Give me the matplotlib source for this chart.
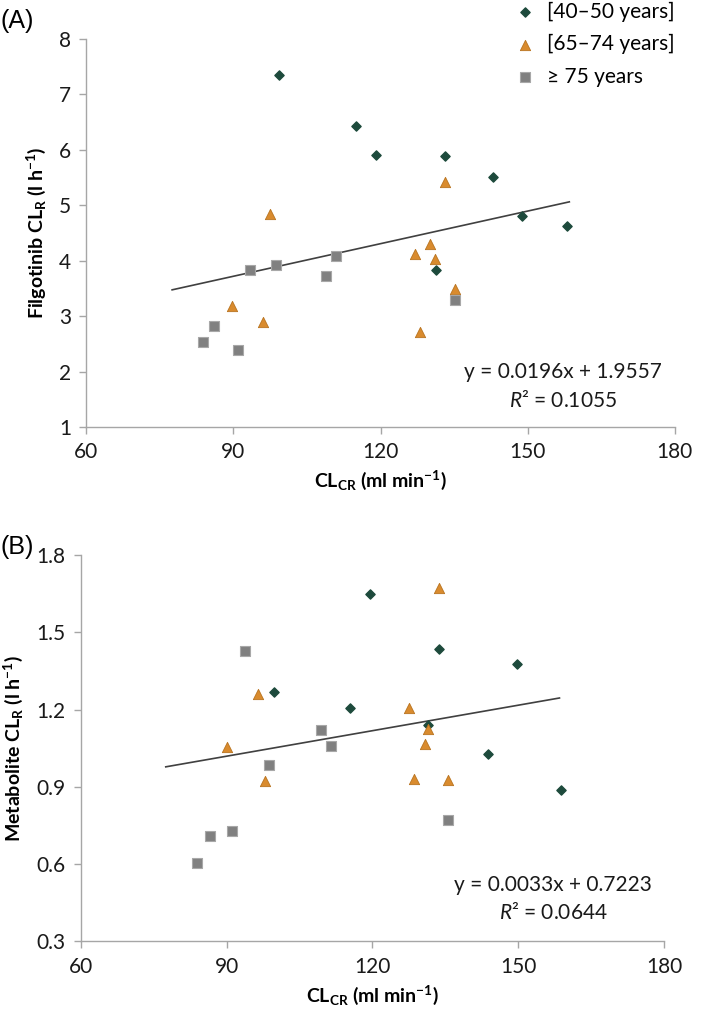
import matplotlib
matplotlib.use("Agg")
import matplotlib.pyplot as plt
import numpy as np

# panel A: filgotinib renal clearance vs creatinine clearance
a_green_x = [99.4, 114.9, 119.1, 133.1, 142.9, 148.9, 158.0, 131.3]
a_green_y = [7.35, 6.43, 5.91, 5.89, 5.51, 4.80, 4.63, 3.84]
a_orange_x = [97.5, 133.1, 127.1, 130.0, 131.2, 135.1, 128.0, 89.8, 96.0]
a_orange_y = [4.85, 5.42, 4.12, 4.31, 4.03, 3.49, 2.72, 3.18, 2.90]
a_grey_x = [93.4, 98.6, 108.9, 110.9, 135.1, 83.7, 86.1, 90.9]
a_grey_y = [3.84, 3.93, 3.73, 4.08, 3.29, 2.54, 2.82, 2.39]
a_fit = (0.0196, 1.9557, 0.1055)

# panel B: metabolite renal clearance
b_green_x = [99.8, 115.4, 119.6, 133.8, 149.7, 131.5, 143.7, 158.9]
b_green_y = [1.269, 1.208, 1.649, 1.435, 1.377, 1.142, 1.027, 0.887]
b_orange_x = [133.8, 96.4, 90.2, 97.9, 127.5, 131.5, 130.8, 128.6, 135.6]
b_orange_y = [1.674, 1.259, 1.056, 0.922, 1.207, 1.124, 1.065, 0.931, 0.926]
b_grey_x = [93.9, 109.4, 111.5, 98.7, 135.5, 86.6, 91.2, 84.0]
b_grey_y = [1.429, 1.121, 1.059, 0.984, 0.771, 0.711, 0.727, 0.603]
b_fit = (0.0033, 0.7223, 0.0644)

trend_range = [77.5, 158.5]
group_labels = ["[40\u201350 years]", "[65\u201374 years]", "\u2265 75 years"]

plt.rcParams["font.family"] = ["Lato", "DejaVu Sans"]
plt.rcParams["mathtext.fontset"] = "custom"
plt.rcParams["mathtext.rm"] = "Lato"
plt.rcParams["mathtext.it"] = "Lato:italic"
plt.rcParams["mathtext.bf"] = "Lato:bold"

GREEN = "#1d4a3c"
ORANGE = "#d98b2e"
GREY = "#808080"
AXC = "#a6a6a6"


def style_axes(ax):
    for s in ["top", "right"]:
        ax.spines[s].set_visible(False)
    for s in ["left", "bottom"]:
        ax.spines[s].set_color(AXC)
        ax.spines[s].set_linewidth(1.0)
    ax.tick_params(direction="out", length=5, width=1.0, color=AXC,
                   labelsize=15, labelcolor="#1a1a1a", pad=6)


def draw_panel(ax, gx, gy, ox, oy, qx, qy, fit, ylim, yticks, ylabel, eq_y):
    h1 = ax.scatter(gx, gy, marker="D", s=22, color=GREEN, edgecolor=GREEN, zorder=3)
    h2 = ax.scatter(ox, oy, marker="^", s=55, color=ORANGE, edgecolor="#b8731f",
                    linewidth=0.6, zorder=3)
    h3 = ax.scatter(qx, qy, marker="s", s=55, color=GREY, edgecolor="#a8a8a8",
                    linewidth=0.8, zorder=3)
    slope, icpt, r2 = fit
    xs = np.array(trend_range)
    ax.plot(xs, slope * xs + icpt, color="#404040", linewidth=1.2, zorder=2)
    ax.set_xlim(60, 180)
    ax.set_xticks([60, 90, 120, 150, 180])
    ax.set_ylim(*ylim)
    ax.set_yticks(yticks)
    style_axes(ax)
    ax.set_xlabel(r"CL$_{\mathbf{CR}}$ (ml min$^{\mathbf{-1}}$)", fontsize=14,
                  fontweight="bold", labelpad=5)
    ax.set_ylabel(ylabel, fontsize=14, fontweight="bold", labelpad=8)
    ax.text(0.81, eq_y, f"y = {slope}x + {icpt}\n$R$\u00b2 = {r2}",
            transform=ax.transAxes, ha="center", va="center", fontsize=15,
            linespacing=1.45, color="#1a1a1a")
    return h1, h2, h3


fig = plt.figure(figsize=(7.09, 10.22), dpi=100)
ax_a = fig.add_axes([0.1217, 0.5822, 0.830, 0.3796])
ax_b = fig.add_axes([0.1138, 0.0788, 0.8227, 0.378])

handles = draw_panel(ax_a, a_green_x, a_green_y, a_orange_x, a_orange_y,
                     a_grey_x, a_grey_y, a_fit, (1, 8), range(1, 9),
                     r"Filgotinib CL$_{\mathbf{R}}$ (l h$^{\mathbf{-1}}$)", 0.105)
draw_panel(ax_b, b_green_x, b_green_y, b_orange_x, b_orange_y,
           b_grey_x, b_grey_y, b_fit, (0.3, 1.8), [0.3, 0.6, 0.9, 1.2, 1.5, 1.8],
           r"Metabolite CL$_{\mathbf{R}}$ (l h$^{\mathbf{-1}}$)", 0.11)
ax_b.yaxis.set_major_formatter(matplotlib.ticker.FormatStrFormatter("%.1f"))

fig.legend(handles, group_labels, loc="upper left", bbox_to_anchor=(0.7, 1.017),
           frameon=False, fontsize=15, handletextpad=0.55, labelspacing=0.6,
           handlelength=1.0)

fig.text(0.0, 0.979, "(A)", fontsize=18, family="Liberation Sans", va="center")
fig.text(0.0, 0.465, "(B)", fontsize=18, family="Liberation Sans", va="center")

fig.savefig("out.png", dpi=100)
